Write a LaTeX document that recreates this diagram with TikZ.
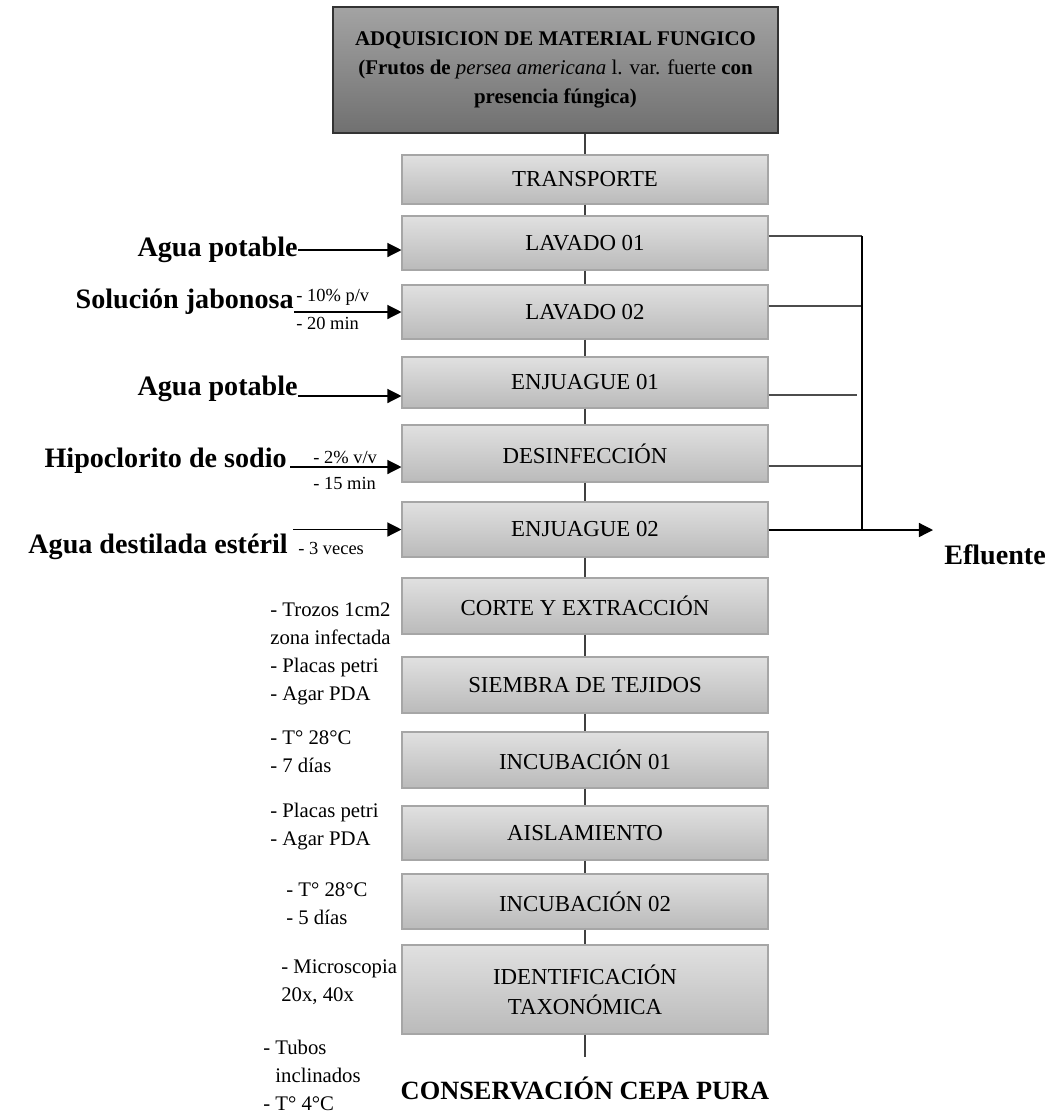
\documentclass[tikz,border=0pt]{standalone}
\usepackage{fontspec}
\setmainfont{Liberation Serif}
\usetikzlibrary{arrows.meta,calc}

\tikzset{
  procbox/.style={draw=black!35, line width=0.6pt, top color=black!12, bottom color=black!27,
    minimum width=366*0.02cm, inner sep=0pt, align=center, font=\fontsize{13}{17}\selectfont},
  mainbox/.style={draw=black!80, line width=0.8pt, top color=black!36, bottom color=black!56,
    minimum width=445*0.02cm, minimum height=126*0.02cm, inner sep=0pt, align=center,
    font=\fontsize{11.9}{16.7}\selectfont},
  flow/.style={draw=black!75, line width=0.7pt},
  drain/.style={draw=black!70, line width=0.7pt},
  feed/.style={line width=0.7pt, -{Triangle[length=8pt,width=8pt]}},
  inlabel/.style={font=\fontsize{16}{19}\selectfont\bfseries, inner sep=0pt},
  dose/.style={font=\fontsize{10.5}{12}\selectfont, inner sep=0pt, anchor=west},
  cond/.style={font=\fontsize{11.8}{15.9}\selectfont, inner sep=0pt, anchor=west, align=left}
}

\begin{document}
\begin{tikzpicture}[x=0.02cm, y=-0.02cm]

  \useasboundingbox (0,0) rectangle (1052,1113);

  %top box
  \node[mainbox] (adq) at (555.5,70) {\textbf{ADQUISICION DE MATERIAL FUNGICO}\\
    \textbf{(Frutos de} \textit{persea americana} l. var. fuerte \textbf{con}\\
    \textbf{presencia fúngica)}};

  %process boxes
  \foreach \name/\yc/\h/\txt in {trans/179.5/49/TRANSPORTE, lav1/243/54/LAVADO 01,
      lav2/312/54/LAVADO 02, enj1/382.5/51/ENJUAGUE 01, desinf/453.5/57/DESINFECCIÓN,
      enj2/529.5/55/ENJUAGUE 02, corte/606/56/CORTE Y EXTRACCIÓN,
      siembra/685/56/SIEMBRA DE TEJIDOS, inc1/760/56/INCUBACIÓN 01,
      aisl/833/54/AISLAMIENTO, inc2/901.5/55/INCUBACIÓN 02,
      ident/989.5/89/{IDENTIFICACIÓN\\TAXONÓMICA}}{
    \node[procbox, minimum height=\h*0.02cm] (\name) at (585,\yc) {\txt};
  }

  \draw[flow] (adq.south -| trans.north) -- (trans.north);
  \foreach \a/\b in {trans/lav1, lav1/lav2, lav2/enj1, enj1/desinf, desinf/enj2,
      enj2/corte, corte/siembra, siembra/inc1, inc1/aisl, aisl/inc2, inc2/ident}{
    \draw[flow] (\a.south) -- (\b.north);
  }

  \coordinate (fin) at (585,1057);
  \draw[flow] (ident.south) -- (fin);
  \node[font=\fontsize{15}{18}\selectfont\bfseries, inner sep=0pt] (cepa) at (585,1088) {CONSERVACIÓN CEPA PURA};

  %inputs
  \node[inlabel, anchor=east] (agua1) at (298,250) {Agua potable};
  \draw[feed] (agua1.east) -- (agua1.east -| lav1.west);

  \node[inlabel, anchor=east] (jabon) at (294,302) {Solución jabonosa};
  \draw[feed] (jabon.east |- lav2.west) -- (lav2.west);
  \node[dose] (jabon1) at (296,297) {- 10\% p/v};
  \node[dose] (jabon2) at (296,323) {- 20 min};

  \node[inlabel, anchor=east] (agua2) at (298,389) {Agua potable};
  \coordinate (a2) at ([yshift=-0.14cm]agua2.east);
  \draw[feed] (a2) -- (a2 -| enj1.west);

  \node[inlabel, anchor=east] (hipo) at (287,461) {Hipoclorito de sodio};
  \coordinate (h4) at ([xshift=0.06cm, yshift=-0.12cm]hipo.east);
  \draw[feed] (h4) -- (h4 -| desinf.west);
  \node[dose] (hipo1) at (313,457) {- 2\% v/v};
  \node[dose] (hipo2) at (313,483) {- 15 min};

  \node[inlabel, anchor=east] (dest) at (288,547) {Agua destilada estéril};
  \coordinate (d5) at (dest.east |- enj2.west);
  \draw[feed] ([xshift=0.1cm]d5) -- (enj2.west);
  \node[dose] (dest1) at (298,548) {- 3 veces};

  %conditions
  \foreach \name/\x/\y/\txt in {ncorte/270/624/{- Trozos 1cm2\\zona infectada},
      nsiembra/270/682/{- Placas petri\\- Agar PDA}, ninc1/270/752/{- T° 28°C\\- 7 días},
      naisl/270/827/{- Placas petri\\- Agar PDA}, ninc2/286/904/{- T° 28°C\\- 5 días},
      nident/281/982/{- Microscopia\\20x, 40x},
      ncepa/263/1075/{- Tubos\\\hphantom{- }inclinados\\- T° 4°C}}{
    \node[cond] (\name) at (\x,\y) {\txt};
  }

  %effluent
  \coordinate (w1) at (862,236);
  \coordinate (w2) at (862,306);
  \coordinate (w3) at (857,395);
  \coordinate (w4) at (862,466);
  \coordinate (w5) at (862,530);
  \coordinate (wout) at (933,530);
  \draw[drain] (lav1.east |- w1) -- (w1);
  \draw[drain] (lav2.east |- w2) -- (w2);
  \draw[drain] (enj1.east |- w3) -- (w3);
  \draw[drain] (desinf.east |- w4) -- (w4);
  \draw[line width=0.7pt] (w1) -- (w5);
  \draw[feed] (enj2.east |- w5) -- (wout);
  \node[inlabel] (eflu) at (995,555) {Efluente};

\end{tikzpicture}
\end{document}
